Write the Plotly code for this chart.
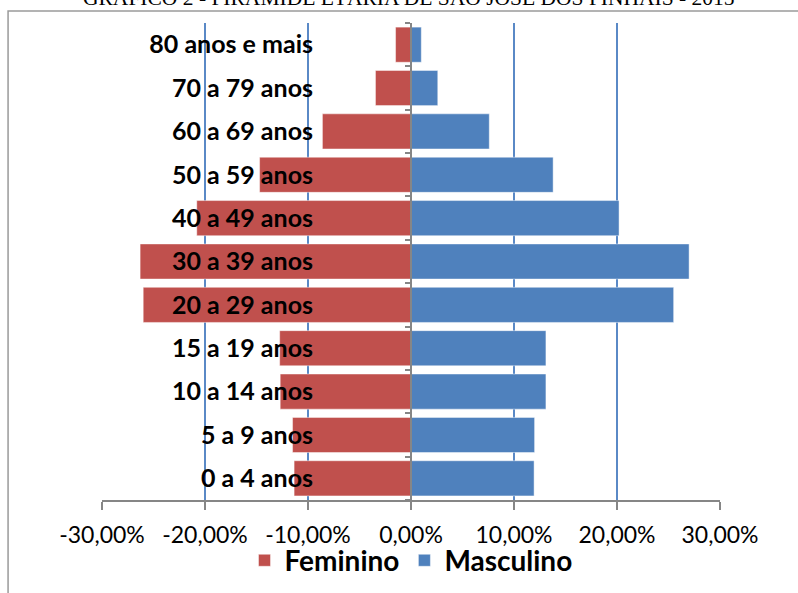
import plotly.graph_objects as go

categories = ["0 a 4 anos", "5 a 9 anos", "10 a 14 anos", "15 a 19 anos", "20 a 29 anos",
              "30 a 39 anos", "40 a 49 anos", "50 a 59 anos", "60 a 69 anos", "70 a 79 anos",
              "80 anos e mais"]
feminino = [-11.35, -11.5, -12.7, -12.75, -26.0, -26.3, -20.8, -14.7, -8.6, -3.45, -1.5]
masculino = [11.95, 12.0, 13.1, 13.1, 25.5, 27.0, 20.2, 13.8, 7.6, 2.6, 1.0]
tick_vals = [-30, -20, -10, 0, 10, 20, 30]
tick_text = ["-30,00%", "-20,00%", "-10,00%", "0,00%", "10,00%", "20,00%", "30,00%"]
title_text = "GRÁFICO 2 - PIRÂMIDE ETÁRIA DE SÃO JOSÉ DOS PINHAIS - 2015"

RED = "#C0504D"
BLUE = "#4F81BD"
GRAY = "#868686"

fig = go.Figure()
fig.add_trace(go.Bar(y=categories, x=feminino, orientation="h", name="Feminino",
                     marker=dict(color=RED, line=dict(color="rgba(255,255,255,0.45)", width=1))))
fig.add_trace(go.Bar(y=categories, x=masculino, orientation="h", name="Masculino",
                     marker=dict(color=BLUE, line=dict(color="rgba(255,255,255,0.45)", width=1))))

fig.update_layout(
    width=798, height=593,
    margin=dict(l=102, r=78, t=23, b=93, autoexpand=False),
    paper_bgcolor="white", plot_bgcolor="white",
    barmode="relative", bargap=0.19,
    font=dict(family="Lato, Open Sans, sans-serif", color="black"),
    showlegend=True,
    legend=dict(orientation="h", x=0.5, xanchor="center", y=-0.127, yanchor="middle",
                bgcolor="rgba(0,0,0,0)",
                font=dict(size=28, family="Lato, sans-serif", color="black", weight="bold"),
                itemwidth=30, traceorder="normal"),
    xaxis=dict(range=[-30, 30], tickvals=tick_vals, ticktext=tick_text,
               showgrid=True, gridcolor="#5A89C6", gridwidth=2, zeroline=False,
               showline=True, linecolor=GRAY, linewidth=2,
               ticks="outside", ticklen=8, tickcolor=GRAY, tickwidth=2,
               ticklabelstandoff=5, automargin=False,
               tickfont=dict(size=23, family="Lato, sans-serif", color="black"),
               fixedrange=True),
    yaxis=dict(anchor="free", position=0.5, showline=True, linecolor=GRAY, linewidth=2,
               ticks="outside", ticklen=5, tickcolor=GRAY, tickwidth=2, tickson="boundaries",
               showgrid=False, ticklabelstandoff=92, automargin=False,
               tickfont=dict(size=25, family="Lato, sans-serif", color="black", weight="bold"),
               range=[-0.5, 10.5], fixedrange=True),
    shapes=[dict(type="rect", xref="paper", yref="paper", x0=-0.152, x1=1.4, y0=-0.4, y1=1.025,
                 line=dict(color="#9a9a9a", width=1.5), fillcolor="rgba(0,0,0,0)", layer="below")],
    annotations=[dict(text=title_text, xref="paper", yref="paper", x=0.496,
                      y=1.023, xanchor="center", yanchor="bottom", showarrow=False,
                      font=dict(family="Liberation Serif, Times New Roman, serif", size=21.5, color="black"))],
)

fig.write_html("out.html", config={"displayModeBar": False},
               post_script="document.body.style.margin='0';document.body.style.padding='0';")
